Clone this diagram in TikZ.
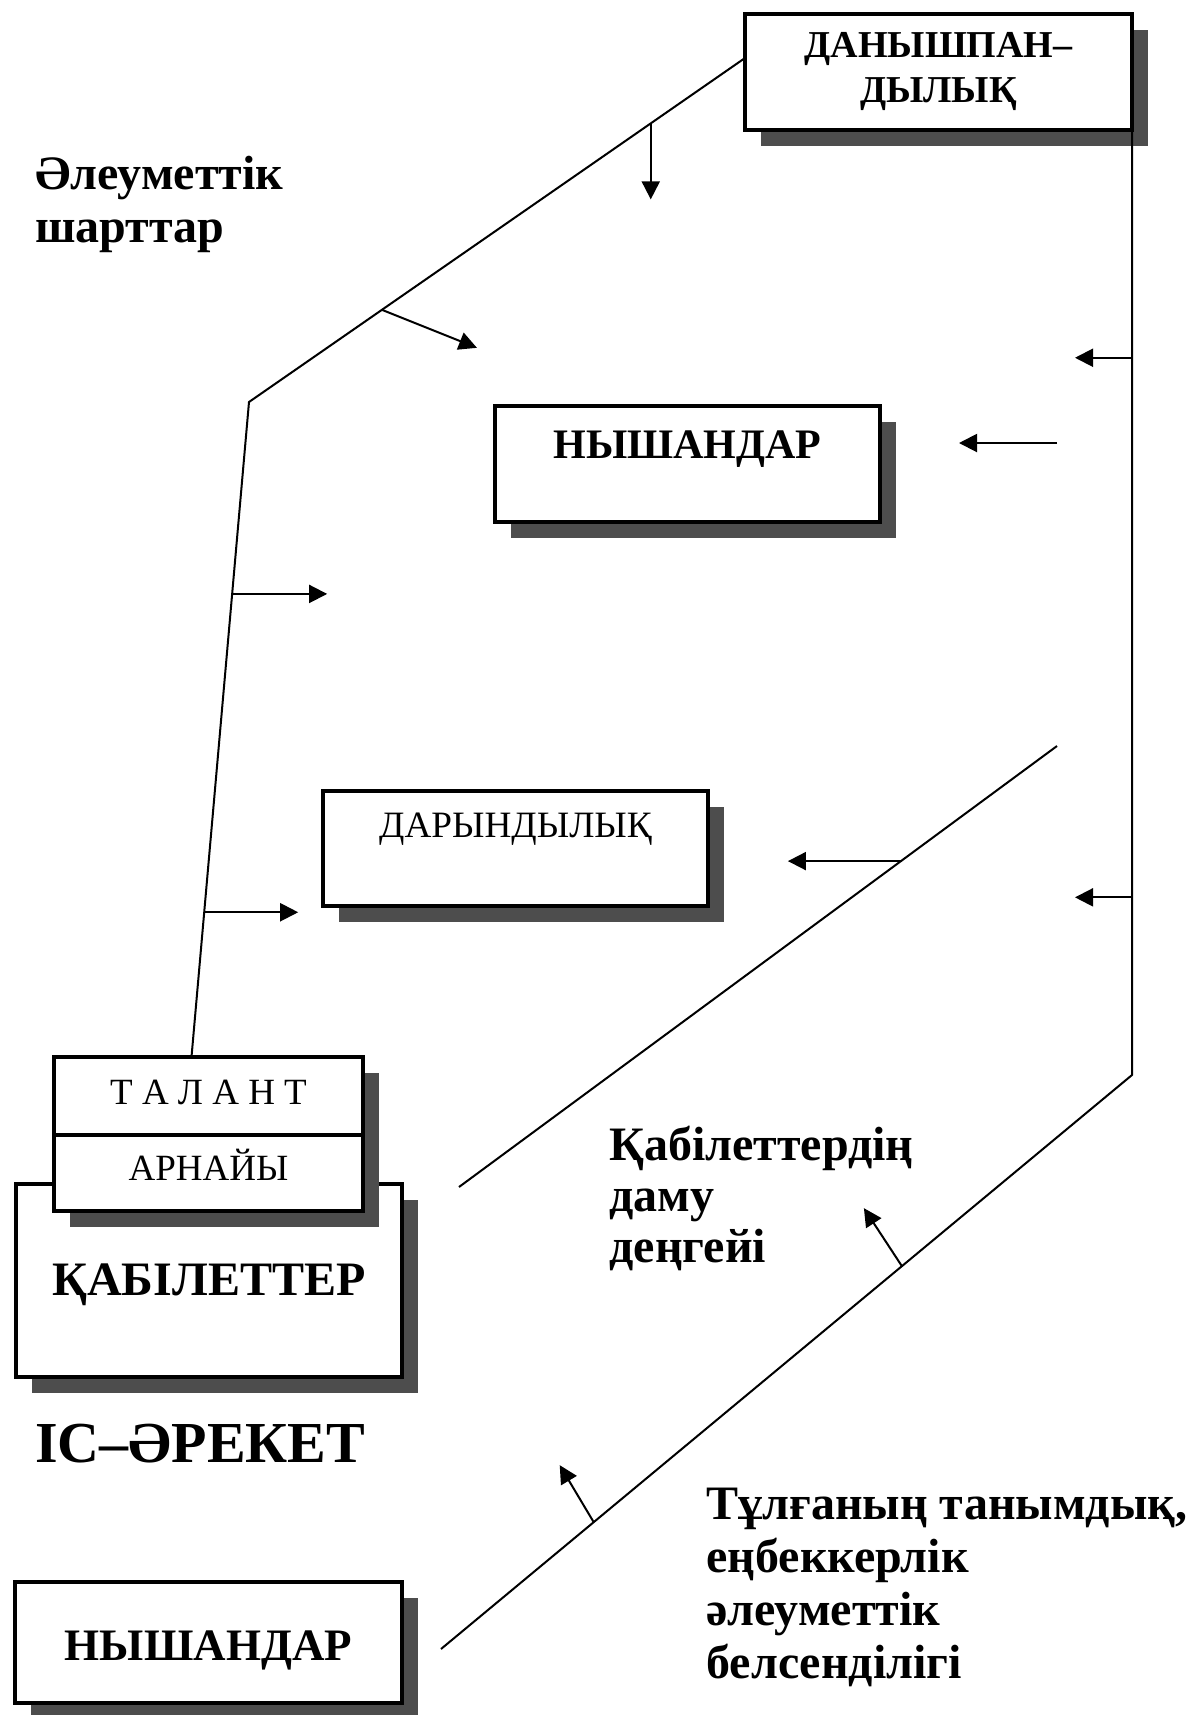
\documentclass[tikz,border=0pt]{standalone}
\usepackage{fontspec}
\setmainfont{Liberation Serif}
\usepackage{tikz}
\usetikzlibrary{arrows.meta, shadows, positioning, calc}
\usepackage{xcolor}
\definecolor{shadowgray}{RGB}{77, 77, 77}

\begin{document}
\begin{tikzpicture}[x=0.5pt, y=-0.5pt]
    % Define styles
    \tikzstyle{box} = [rectangle, draw, fill=white, line width=1.8pt, inner sep=0pt, outer sep=0pt, drop shadow={shadow xshift=8pt, shadow yshift=-8pt, fill=shadowgray, opacity=1}]
    \tikzstyle{link} = [line width=1pt]
    \tikzstyle{arr} = [line width=1pt, -{Triangle[length=9pt, width=9pt]}]
    \tikzstyle{caption} = [anchor=north west, align=left, inner sep=0pt, font=\fontsize{24}{26.5}\selectfont\bfseries]

    \useasboundingbox (0,0) rectangle (1190,1715);

    % Nodes
    \node[box, anchor=north west, minimum width=193.5pt, minimum height=58pt, align=center, font=\fontsize{19}{22.5}\selectfont\bfseries] (genius) at (745,14) {ДАНЫШПАН–\\ДЫЛЫҚ};
    \node[box, anchor=north west, minimum width=192.5pt, text height=26pt, text depth=32pt, font=\fontsize{21}{22}\selectfont\bfseries] (inclinA) at (495,406) {НЫШАНДАР};
    \node[box, anchor=north west, minimum width=192.5pt, text height=23pt, text depth=34.5pt, font=\fontsize{18.6}{19}\selectfont] (gift) at (323,791) {ДАРЫНДЫЛЫҚ};
    \node[box, anchor=north west, minimum width=193pt, text height=55.5pt, text depth=41pt, font=\fontsize{24}{25}\selectfont\bfseries] (abil) at (16,1184) {ҚАБІЛЕТТЕР};
    \node[box, anchor=north west, minimum width=154.5pt, text height=23.5pt, text depth=15.5pt, font=\fontsize{18.5}{19}\selectfont] (talent) at (54,1057) {Т А Л А Н Т};
    \node[box, below=0pt of talent, minimum width=154.5pt, text height=22.5pt, text depth=15.5pt, font=\fontsize{18.5}{19}\selectfont] (special) {АРНАЙЫ};
    \node[box, anchor=north west, minimum width=193.5pt, text height=39pt, text depth=21.5pt, font=\fontsize{22.5}{23}\selectfont\bfseries] (inclinB) at (15,1582) {НЫШАНДАР};

    \node[caption] (social) at (35,156) {Әлеуметтік\\шарттар};
    \node[caption, font=\fontsize{24}{25.5}\selectfont\bfseries] (growth) at (609,1126) {Қабілеттердің\\даму\\деңгейі};
    \node[caption] (activity) at (706,1488) {Тұлғаның танымдық,\\еңбеккерлік\\әлеуметтік\\белсенділігі};
    \node[anchor=base west, inner sep=0pt, font=\fontsize{29}{31}\selectfont\bfseries] (action) at (35,1462) {ІС–ӘРЕКЕТ};

    % Lines
    \coordinate (gstart) at ([yshift=7pt]genius.west);
    \coordinate (bendL) at (249,402);
    \coordinate (tend) at ([xshift=-8.5pt]talent.north);
    \coordinate (bendR) at (1132,1075);
    \coordinate (lowEnd) at (441,1649);
    \coordinate (midTop) at (1057,746);
    \coordinate (midBot) at (459,1187);
    \coordinate (free) at (1057,443);

    \draw[link] (gstart) -- (bendL) -- (tend);
    \draw[link] (genius.south east) -- (bendR) -- (lowEnd);
    \draw[link] (midTop) -- (midBot);

    % Arrows
    \draw[arr] ($(gstart)!0.19!(bendL)$) -- ++(0,76);
    \draw[arr] ($(gstart)!0.732!(bendL)$) -- ++(95,38);
    \draw[arr] ($(bendL)!0.293!(tend)$) -- ++(95,0);
    \draw[arr] ($(bendL)!0.779!(tend)$) -- ++(94,0);
    \draw[arr] ($(genius.south east)!0.241!(bendR)$) -- ++(-57,0);
    \draw[arr] ($(genius.south east)!0.812!(bendR)$) -- ++(-57,0);
    \draw[arr] (free) -- ++(-98,0);
    \draw[arr] ($(midTop)!0.261!(midBot)$) -- ++(-113,0);
    \draw[arr] ($(bendR)!0.333!(lowEnd)$) -- ++(-38,-58);
    \draw[arr] ($(bendR)!0.779!(lowEnd)$) -- ++(-34,-57);
\end{tikzpicture}
\end{document}
